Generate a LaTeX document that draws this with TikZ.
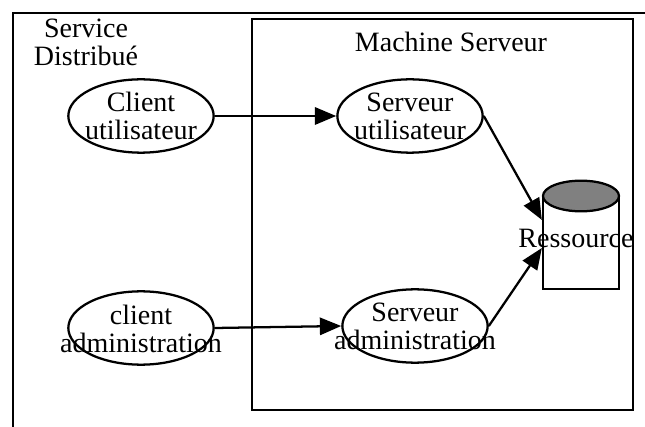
\documentclass[tikz,border=0pt]{standalone}
\usepackage{fontspec}
\setmainfont{Liberation Serif}
\usetikzlibrary{arrows.meta,shapes.geometric}
\definecolor{resgray}{RGB}{128,128,128}
\tikzset{
  ovale/.style={ellipse, draw, line width=1.7pt, minimum width=109pt, minimum height=55pt, inner sep=0pt},
  txt/.style={align=center, inner sep=0pt, font=\fontsize{21}{21}\selectfont},
  fleche/.style={line width=1.7pt, -{Triangle[length=16pt,width=13pt]}}
}
\begin{document}
\begin{tikzpicture}[x=0.75pt,y=-0.75pt]
    \useasboundingbox (0,0) rectangle (645,427);
    \draw[line width=2.2pt] (13,427) -- (13,13) -- (645,13); % Service distribue
    \draw[line width=1.8pt] (252,19) rectangle (633,410); % Machine
    \node[txt] (titreservice) at (86,42) {Service\\Distribué};
    \node[txt, anchor=base] (titremachine) at (451,52) {Machine Serveur};
    % clients et serveurs
    \node[ovale] (cu) at (141,116) {};
    \node[ovale] (su) at (410,116) {};
    \node[ovale] (ca) at (141,328) {};
    \node[ovale] (sa) at (415,326) {};
    \node[txt] at (cu) {Client\\utilisateur};
    \node[txt] at (su) {Serveur\\utilisateur};
    \node[txt] at ([yshift=-1pt]ca) {client\\administration};
    \node[txt] at (sa) {Serveur\\administration};
    % ressource
    \node[draw, line width=1.7pt, minimum width=57pt, minimum height=70pt, inner sep=0pt] (res) at (581,242.5) {};
    \node[ellipse, draw, fill=resgray, line width=1.7pt, minimum width=57pt, minimum height=23pt, inner sep=0pt] (restop) at (581,196) {};
    \node[txt, anchor=base] (resname) at (576,248) {Ressource};
    \draw[fleche] (cu.east) -- (su.west);
    \draw[fleche] (ca.east) -- (sa.west);
    \draw[fleche] (su.east) -- (res.150);
    \draw[fleche] (sa.east) -- (res.188);
\end{tikzpicture}
\end{document}
